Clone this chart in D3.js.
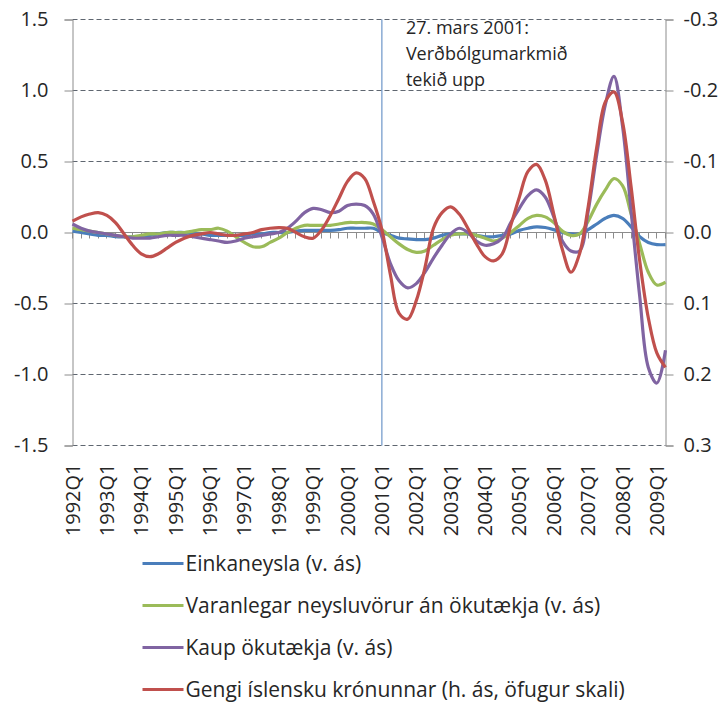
<!DOCTYPE html>
<html>
<head>
<meta charset="utf-8">
<script src="https://cdn.jsdelivr.net/npm/d3@7"></script>
<style>
  body { margin: 0; background: #fff; }
  #chart { width: 727px; height: 706px; }
  text { font-family: "Open Sans", "Noto Sans", sans-serif; fill: #262626; }
</style>
</head>
<body>
<div id="chart"></div>
<script>
// Ársfjórðungar 1992Q1 - 2009Q2
const quarters = [];
for (let y = 1992; y <= 2009; y++) {
  for (let q = 1; q <= 4; q++) {
    if (y === 2009 && q > 2) break;
    quarters.push(`${y}Q${q}`);
  }
}
const tickLabels = quarters.filter(d => d.endsWith("Q1"));

const leftTicks = [-1.5, -1.0, -0.5, 0.0, 0.5, 1.0, 1.5];
const rightTicks = [-0.3, -0.2, -0.1, 0.0, 0.1, 0.2, 0.3];

// Einkaneysla (v. ás)
const einkaneysla = [
  0.01, 0.0, -0.01, -0.02, -0.02, -0.03, -0.03, -0.03, -0.03, -0.02,
  -0.01, 0.0, 0.0, 0.0, -0.01, -0.01, -0.02, -0.02, -0.02, -0.02,
  -0.02, -0.01, -0.01, 0.0, 0.0, 0.0, 0.01, 0.015, 0.015, 0.015,
  0.015, 0.02, 0.03, 0.03, 0.03, 0.03, 0.0, -0.02, -0.04, -0.045,
  -0.05, -0.05, -0.04, -0.02, -0.01, -0.01, -0.01, -0.02, -0.03, -0.03,
  -0.02, -0.01, 0.015, 0.03, 0.04, 0.035, 0.02, 0.0, -0.01, -0.01,
  0.02, 0.06, 0.10, 0.12, 0.10, 0.04, -0.03, -0.07, -0.085, -0.085
];

// Varanlegar neysluvörur án ökutækja (v. ás)
const varanlegar = [
  0.03, 0.02, 0.01, 0.0, -0.01, -0.02, -0.03, -0.03, -0.02, -0.01,
  -0.01, 0.0, 0.0, 0.0, 0.01, 0.02, 0.02, 0.03, 0.01, -0.03,
  -0.07, -0.10, -0.10, -0.07, -0.04, 0.0, 0.03, 0.05, 0.05, 0.05,
  0.05, 0.06, 0.07, 0.07, 0.07, 0.06, 0.02, -0.03, -0.08, -0.12,
  -0.14, -0.13, -0.09, -0.05, -0.02, -0.01, -0.01, -0.02, -0.04, -0.06,
  -0.04, 0.0, 0.05, 0.10, 0.12, 0.11, 0.07, 0.01, -0.02, -0.01,
  0.08, 0.20, 0.30, 0.38, 0.33, 0.13, -0.08, -0.28, -0.37, -0.35
];

// Kaup ökutækja (v. ás)
const kaupOkutaekja = [
  0.06, 0.03, 0.01, 0.0, -0.01, -0.02, -0.03, -0.04, -0.04, -0.04,
  -0.03, -0.02, -0.02, -0.02, -0.03, -0.04, -0.05, -0.06, -0.07, -0.06,
  -0.04, -0.03, -0.02, -0.01, 0.0, 0.03, 0.08, 0.14, 0.17, 0.16,
  0.14, 0.15, 0.19, 0.20, 0.19, 0.13, -0.03, -0.22, -0.34, -0.39,
  -0.36, -0.28, -0.18, -0.09, -0.01, 0.03, 0.0, -0.06, -0.09, -0.08,
  -0.04, 0.07, 0.17, 0.26, 0.30, 0.25, 0.11, -0.06, -0.13, -0.13,
  0.15, 0.55, 0.90, 1.10, 0.75, 0.15, -0.45, -0.95, -1.06, -0.83
];

// Gengi íslensku krónunnar (h. ás, öfugur skali)
const gengi = [
  -0.016, -0.022, -0.026, -0.028, -0.024, -0.014, 0.002, 0.018, 0.030, 0.034,
  0.030, 0.022, 0.014, 0.008, 0.004, 0.002, 0.000, 0.002, 0.004, 0.004,
  0.002, 0.000, -0.004, -0.006, -0.007, -0.006, 0.000, 0.006, 0.008, -0.004,
  -0.024, -0.048, -0.072, -0.084, -0.076, -0.044, -0.004, 0.060, 0.114, 0.122,
  0.096, 0.050, -0.006, -0.028, -0.036, -0.026, -0.006, 0.016, 0.034, 0.040,
  0.030, -0.010, -0.050, -0.086, -0.096, -0.074, -0.026, 0.024, 0.056, 0.030,
  -0.036, -0.120, -0.184, -0.198, -0.156, -0.064, 0.040, 0.120, 0.170, 0.190
];

const series = [
  { name: "Einkaneysla (v. ás)", values: einkaneysla, color: "#4a7ebb", axis: "left" },
  { name: "Varanlegar neysluvörur án ökutækja (v. ás)", values: varanlegar, color: "#9bbb59", axis: "left" },
  { name: "Kaup ökutækja (v. ás)", values: kaupOkutaekja, color: "#8064a2", axis: "left" },
  { name: "Gengi íslensku krónunnar (h. ás, öfugur skali)", values: gengi, color: "#c0504d", axis: "right" }
];

const annotation = ["27. mars 2001:", "Verðbólgumarkmið", "tekið upp"];
const markQuarter = "2001Q1";

// Kortasvæði
const margin = { top: 19, right: 62, bottom: 261, left: 72 };
const fullW = 727, fullH = 706;
const width = fullW - margin.left - margin.right;
const height = fullH - margin.top - margin.bottom;

const svg = d3.select("#chart").append("svg")
  .attr("width", fullW)
  .attr("height", fullH)
  .append("g")
  .attr("transform", `translate(${margin.left + 0.5}, ${margin.top + 0.5})`); // +0.5 fyrir skarpar línur

const x = d3.scalePoint().domain(quarters).range([0, width]);
const yL = d3.scaleLinear().domain([-1.5, 1.5]).range([height, 0]);
const yR = d3.scaleLinear().domain([-0.3, 0.3]).range([0, height]); // öfugur skali

const fmt = d => d.toFixed(1); // venjulegt bandstrik, ekki U+2212

// Hnitalínur
svg.append("g")
  .selectAll("line")
  .data(leftTicks.filter(d => d !== 0))
  .join("line")
  .attr("x1", 0).attr("x2", width)
  .attr("y1", d => yL(d)).attr("y2", d => yL(d))
  .attr("stroke", "#5f6670")
  .attr("stroke-width", 1)
  .attr("stroke-dasharray", "5,3");

// Vinstri ás
const leftAxis = svg.append("g")
  .call(d3.axisLeft(yL).tickValues(leftTicks).tickFormat(fmt).tickSize(8).tickPadding(16));
leftAxis.select(".domain").attr("stroke", "#8c8c8c");
leftAxis.selectAll(".tick line").attr("stroke", "#8c8c8c");
leftAxis.selectAll("text").style("font-size", "20px").attr("fill", "#262626");

// Hægri ás
const rightAxis = svg.append("g")
  .attr("transform", `translate(${width}, 0)`)
  .call(d3.axisRight(yR).tickValues(rightTicks).tickFormat(fmt).tickSize(8).tickPadding(10));
rightAxis.select(".domain").attr("stroke", "#8c8c8c");
rightAxis.selectAll(".tick line").attr("stroke", "#8c8c8c");
rightAxis.selectAll("text").style("font-size", "20px").attr("fill", "#262626");

// Núlllína með smáum merkjum
svg.append("line")
  .attr("x1", 0).attr("x2", width)
  .attr("y1", yL(0)).attr("y2", yL(0))
  .attr("stroke", "#8c8c8c");

svg.append("g")
  .selectAll("line")
  .data(quarters)
  .join("line")
  .attr("x1", d => Math.round(x(d))).attr("x2", d => Math.round(x(d)))
  .attr("y1", yL(0)).attr("y2", yL(0) + 6)
  .attr("stroke", "#8c8c8c");

// Merki á x-ás (neðst)
svg.append("g")
  .selectAll("text")
  .data(tickLabels)
  .join("text")
  .attr("transform", d => `translate(${x(d)}, ${height + 18}) rotate(-90)`)
  .attr("text-anchor", "end")
  .attr("dy", "0.35em")
  .style("font-size", "20px")
  .text(d => d);

// Lóðrétt lína við 2001Q1
svg.append("line")
  .attr("x1", x(markQuarter)).attr("x2", x(markQuarter))
  .attr("y1", 0).attr("y2", height)
  .attr("stroke", "#4f81bd")
  .attr("stroke-width", 1);

svg.append("text")
  .attr("x", x(markQuarter) + 24)
  .attr("y", 14)
  .style("font-size", "18px")
  .selectAll("tspan")
  .data(annotation)
  .join("tspan")
  .attr("x", x(markQuarter) + 24)
  .attr("dy", (d, i) => i === 0 ? 0 : 26)
  .text(d => d);

// Línur
series.forEach(s => {
  const yScale = s.axis === "left" ? yL : yR;
  const line = d3.line()
    .x((d, i) => x(quarters[i]))
    .y(d => yScale(d))
    .curve(d3.curveCatmullRom.alpha(0.5));

  svg.append("path")
    .datum(s.values)
    .attr("fill", "none")
    .attr("stroke", s.color)
    .attr("stroke-width", 3.2)
    .attr("stroke-linejoin", "round")
    .attr("d", line);
});

// Skýringar
const legend = svg.append("g")
  .attr("transform", `translate(${142 - margin.left}, ${563 - margin.top})`);

const items = legend.selectAll("g")
  .data(series)
  .join("g")
  .attr("transform", (d, i) => `translate(0, ${i * 42})`);

items.append("line")
  .attr("x1", 0).attr("x2", 41)
  .attr("y1", 0).attr("y2", 0)
  .attr("stroke", d => d.color)
  .attr("stroke-width", 3);

items.append("text")
  .attr("x", 43)
  .attr("dy", "0.35em")
  .style("font-size", "21px")
  .text(d => d.name);
</script>
</body>
</html>
